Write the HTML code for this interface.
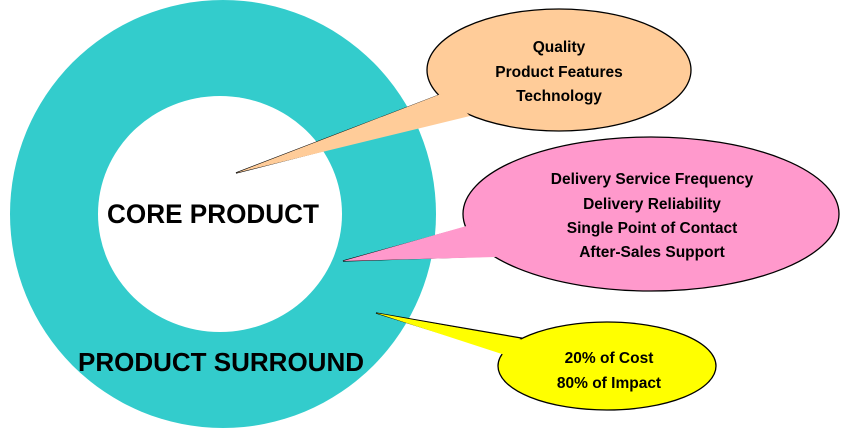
<!DOCTYPE html>
<html><head><meta charset="utf-8"><style>html,body{margin:0;padding:0;background:#fff}svg{display:block}</style></head>
<body>
<svg width="842" height="428" viewBox="0 0 842 428" xmlns="http://www.w3.org/2000/svg">
<ellipse cx="223" cy="214" rx="213" ry="214" fill="#33CCCC"/>
<ellipse cx="220" cy="214" rx="122" ry="118" fill="#fff"/>
<g font-family="'Liberation Sans',Arial,sans-serif" font-weight="bold" fill="#000">
<text x="107" y="223" font-size="27" textLength="212" lengthAdjust="spacingAndGlyphs">CORE PRODUCT</text>
<text x="78" y="371" font-size="26" textLength="286" lengthAdjust="spacingAndGlyphs">PRODUCT SURROUND</text>
</g>
<g stroke="#000" stroke-width="1.3" stroke-linejoin="miter">
<polygon points="236,173 442,94 467,114" fill="#FFCC99"/>
<ellipse cx="559" cy="70" rx="132" ry="61" fill="#FFCC99"/>
<polygon points="236,173 446,92 470,116" fill="#FFCC99" stroke="none"/>
<polygon points="343,261 467,227 492,256" fill="#FF99CC"/>
<ellipse cx="651" cy="214" rx="188" ry="77" fill="#FF99CC"/>
<polygon points="343,261 470,225 496,257" fill="#FF99CC" stroke="none"/>
<polygon points="376,313 527,339 505,353" fill="#FFFF00"/>
<ellipse cx="607" cy="366" rx="109" ry="44" fill="#FFFF00"/>
<polygon points="376,313 530,341 508,356" fill="#FFFF00" stroke="none"/>
</g>
<g font-family="'Liberation Sans',Arial,sans-serif" font-weight="bold" font-size="15.5" text-anchor="middle" fill="#000">
<text x="559" y="52">Quality</text>
<text x="559" y="77">Product Features</text>
<text x="559" y="101">Technology</text>
<text x="652" y="184">Delivery Service Frequency</text>
<text x="652" y="209">Delivery Reliability</text>
<text x="652" y="233">Single Point of Contact</text>
<text x="652" y="257">After-Sales Support</text>
<text x="609" y="363">20% of Cost</text>
<text x="609" y="388">80% of Impact</text>
</g>
</svg>
</body></html>
